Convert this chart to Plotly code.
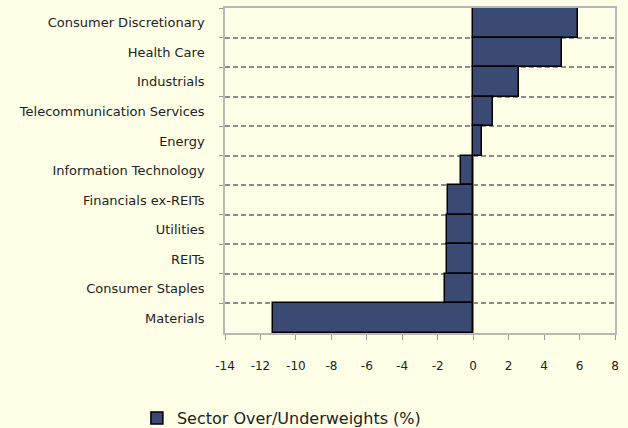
import plotly.graph_objects as go

sectors = [
    "Consumer Discretionary", "Health Care", "Industrials",
    "Telecommunication Services", "Energy", "Information Technology",
    "Financials ex-REITs", "Utilities", "REITs", "Consumer Staples", "Materials",
]
weights = [5.9, 5.0, 2.6, 1.1, 0.5, -0.7, -1.4, -1.5, -1.5, -1.6, -11.3]
series_name = "Sector Over/Underweights (%)"
x_ticks = list(range(-14, 9, 2))

BG = "#FFFFE8"
FONT = "DejaVu Sans"

fig = go.Figure()
fig.add_trace(go.Bar(
    y=sectors, x=weights, orientation="h", name=series_name,
    marker=dict(color="#3B4A72", line=dict(color="#000000", width=1.5)),
    showlegend=True,
))

fig.update_layout(
    width=628, height=428,
    paper_bgcolor=BG, plot_bgcolor=BG,
    margin=dict(l=225, r=13, t=8, b=95, autoexpand=False),
    bargap=0,
    font=dict(family=FONT, size=13, color="#222222"),
    showlegend=True,
    legend=dict(
        orientation="h", xref="container", yref="container",
        x=0.218, xanchor="left", y=0.0234, yanchor="middle",
        font=dict(size=16, color="#222222"), bgcolor="rgba(0,0,0,0)",
        itemwidth=30,
    ),
    xaxis=dict(
        range=[-14, 8], tickvals=x_ticks, ticktext=[str(v) for v in x_ticks],
        showgrid=False, zeroline=True, zerolinecolor="#808080", zerolinewidth=2,
        showline=True, linecolor="#b8b8b8", linewidth=1.5, mirror=True,
        ticks="outside", ticklen=5, tickcolor="#999999", tickwidth=1,
        ticklabelstandoff=16, tickfont=dict(size=12),
    ),
    yaxis=dict(
        categoryorder="array", categoryarray=sectors, autorange="reversed",
        tickson="boundaries", showgrid=True, gridcolor="#8c8c8c", gridwidth=1.5,
        griddash="5px,3px",
        showline=True, linecolor="#b8b8b8", linewidth=1.5, mirror=True,
        ticks="outside", ticklen=4, tickcolor="#999999",
        ticklabelstandoff=16, tickfont=dict(size=13),
    ),
)

fig.write_html("out.html", config={"displayModeBar": False},
               post_script="document.body.style.margin='0';")
